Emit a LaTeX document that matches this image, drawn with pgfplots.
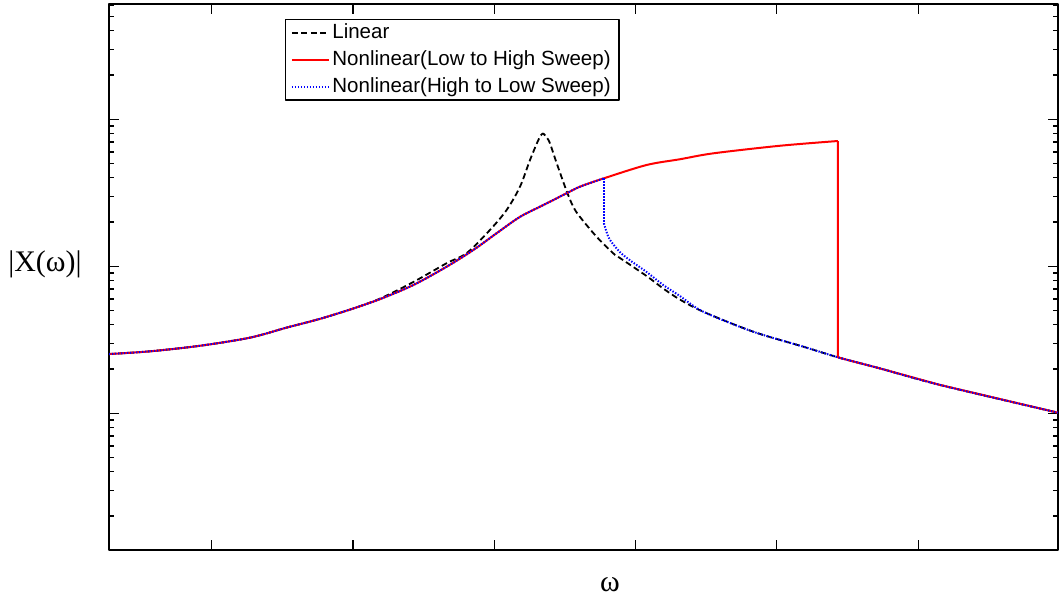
\documentclass[border=0pt]{standalone}
\usepackage{fontspec}
\setmainfont{Liberation Serif}
\newfontfamily\arialfont{Liberation Sans}
\usepackage{pgfplots}
\pgfplotsset{compat=1.18}

\begin{document}
\begin{tikzpicture}
\begin{axis}[
  scale only axis,
  width=474.5bp, height=273bp,
  xmin=0.273, xmax=6.99,
  ymin=1.175e-3, ymax=6.09,
  ymode=log,
  xtick={1,2,3,4,5,6},
  xticklabels={}, yticklabels={},
  axis line style={line width=0.7bp},
  major tick length=5bp, minor tick length=2.5bp,
  every tick/.style={line width=0.6bp, black},
  xlabel={\fontsize{15}{18}\selectfont ω},
  ylabel={\fontsize{15}{18}\selectfont |X(ω)|},
  xlabel style={at={(axis description cs:0.528,0)}, anchor=center, yshift=-17.5bp},
  ylabel style={rotate=-90, at={(axis description cs:0,0.524)}, anchor=center, xshift=-32bp},
  legend style={at={(0.185,0.9725)}, anchor=north west,
    font=\arialfont\fontsize{10.3}{12}\selectfont,
    draw=black, line width=0.6bp, inner xsep=2.9bp, inner ysep=1bp,
    nodes={inner sep=1.2bp}, row sep=2.1bp},
  legend cell align=left,
  legend image code/.code={\draw[#1] (0bp,0bp) -- (18.5bp,0bp);},
  line join=round,
]
%% linear response
\addplot[black, line width=0.9bp, dash pattern=on 3bp off 1.7bp, smooth, tension=0.5] coordinates {
  (0.273,0.0253) (0.563,0.0264) (0.917,0.0288) (1.271,0.0327) (1.531,0.0383)
  (1.766,0.0439) (1.979,0.0508) (2.191,0.0603)
  (2.427,0.0782) (2.663,0.105) (2.805,0.123) (2.970,0.177) (3.088,0.242)
  (3.182,0.348) (3.253,0.529) (3.312,0.723) (3.342,0.800)
  (3.372,0.750) (3.394,0.687) (3.442,0.502) (3.512,0.325)
  (3.559,0.254) (3.606,0.217) (3.724,0.159) (3.842,0.1226) (3.889,0.114)
  (4.078,0.0859) (4.196,0.0706) (4.314,0.0594) (4.479,0.0491) (4.833,0.0359)
  (5.187,0.0284) (5.435,0.0240) (5.730,0.0202) (6.154,0.0156) (6.989,0.0101)
};
\addlegendentry{Linear}
%% nonlinear, low to high sweep
\addplot[red, line width=1bp, smooth, tension=0.5] coordinates {
  (0.273,0.0253) (0.563,0.0264) (0.917,0.0288) (1.271,0.0327) (1.531,0.0383)
  (1.766,0.0439) (1.979,0.0508) (2.191,0.0598)
  (2.427,0.0746) (2.663,0.0994) (2.851,0.129) (3.017,0.168) (3.182,0.217)
  (3.347,0.261) (3.512,0.314) (3.606,0.348) (3.776,0.397)
  (4.078,0.489) (4.314,0.535) (4.550,0.587) (5.022,0.661) (5.432,0.712)
};
\addlegendentry{Nonlinear(Low to High Sweep)}
\addplot[red, line width=1bp, forget plot] coordinates {
  (5.432,0.712) (5.432,0.0240) (5.730,0.0202) (6.154,0.0156) (6.989,0.0101)
};
%% nonlinear, high to low sweep
\addplot[blue, line width=1bp, dash pattern=on 0.7bp off 0.8bp, smooth, tension=0.5] coordinates {
  (0.273,0.0253) (0.563,0.0264) (0.917,0.0288) (1.271,0.0327) (1.531,0.0383)
  (1.766,0.0439) (1.979,0.0508) (2.191,0.0598)
  (2.427,0.0746) (2.663,0.0994) (2.851,0.129) (3.017,0.168) (3.182,0.217)
  (3.347,0.261) (3.512,0.314) (3.606,0.348) (3.776,0.397)
};
\addlegendentry{Nonlinear(High to Low Sweep)}
\addplot[blue, line width=1bp, dash pattern=on 0.7bp off 0.8bp, forget plot] coordinates {
  (3.776,0.397) (3.776,0.196)
};
\addplot[blue, line width=1bp, dash pattern=on 0.7bp off 0.8bp, smooth, tension=0.5, forget plot] coordinates {
  (3.776,0.196) (3.795,0.171) (3.819,0.151) (3.889,0.125) (3.960,0.110)
  (4.078,0.0915) (4.196,0.0746) (4.314,0.0628) (4.479,0.0491) (4.833,0.0359)
  (5.187,0.0284) (5.435,0.0240) (5.730,0.0202) (6.154,0.0156) (6.989,0.0101)
};
\coordinate (SW) at (rel axis cs:0,0);
\coordinate (NE) at (rel axis cs:1,1);
\end{axis}
\pgfresetboundingbox
\path ([shift={(-54.5bp,-26.5bp)}]SW) rectangle ([shift={(0.5bp,2bp)}]NE);
\end{tikzpicture}
\end{document}
